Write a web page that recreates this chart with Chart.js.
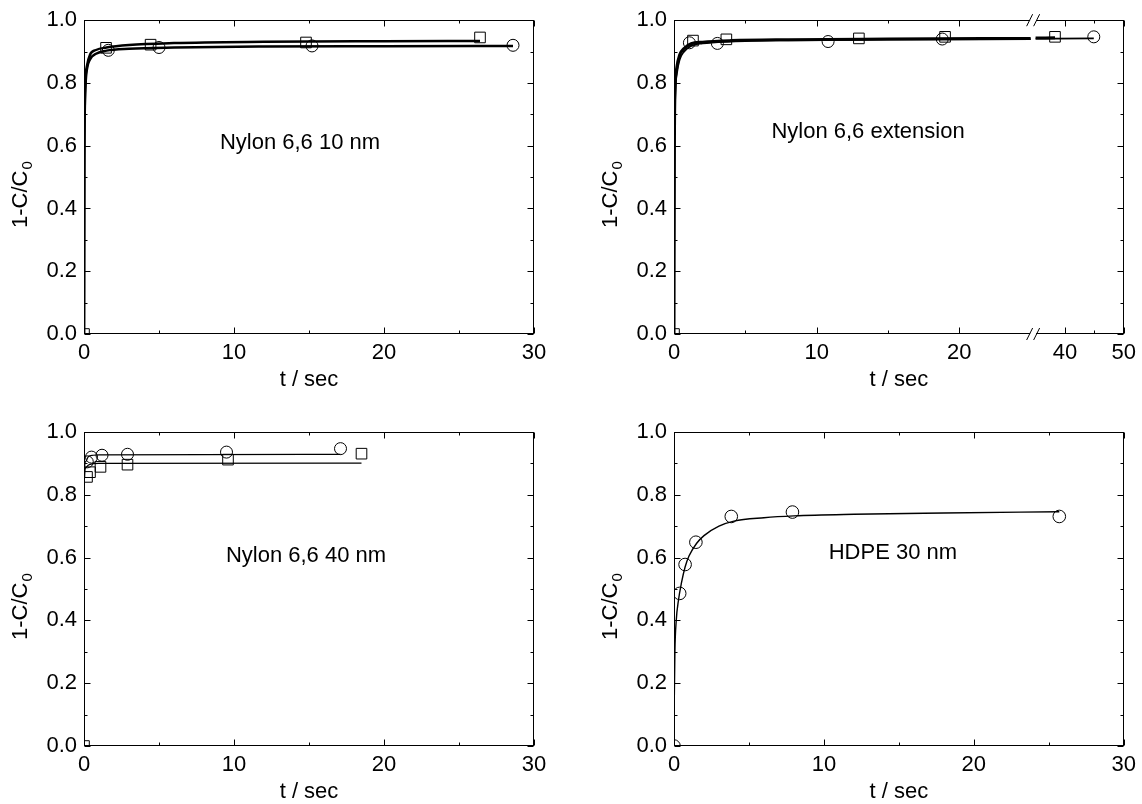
<!DOCTYPE html>
<html><head><meta charset="utf-8">
<script src="https://cdn.jsdelivr.net/npm/chart.js@4.4.1/dist/chart.umd.min.js"></script>
<style>
html,body{margin:0;padding:0;background:#fff;}
#wrap{position:relative;width:1142px;height:804px;overflow:hidden;}
canvas{position:absolute;}
</style></head><body>
<div id="wrap">
<canvas id="c1" width="571" height="402" style="left:0;top:0"></canvas>
<canvas id="c2" width="571" height="402" style="left:571px;top:0"></canvas>
<canvas id="c3" width="571" height="402" style="left:0;top:402px"></canvas>
<canvas id="c4" width="571" height="402" style="left:571px;top:402px"></canvas>
</div>
<script>
// ---------- tick values / labels ----------
const yTickStep = 0.2;
const yMinorTicks = [0.1, 0.3, 0.5, 0.7, 0.9];
const xMinorTicks30 = [5, 15, 25];
const xTicksBroken = [0, 10, 20, 40, 50];
const xMinorBroken = [5, 15, 45];
const xTitle = 't / sec';
const yTitleMain = '1-C/C';
const yTitleSub = '0';
const panelLabels = ['Nylon 6,6 10 nm', 'Nylon 6,6 extension', 'Nylon 6,6 40 nm', 'HDPE 30 nm'];

// ---------- Panel 1: Nylon 6,6 10 nm ----------
const p1SqT = [0, 1.47, 4.44, 14.8, 26.4];
const p1SqV = [0, 0.912, 0.922, 0.929, 0.945];
const p1CiT = [1.62, 5.0, 15.2, 28.6];
const p1CiV = [0.904, 0.913, 0.918, 0.920];
const p1FitSqT = [0, 0.02, 0.05, 0.1, 0.2, 0.4, 0.8, 1.5, 3, 6, 12, 20, 26.4];
const p1FitSqV = [0, 0.55, 0.72, 0.81, 0.855, 0.89, 0.905, 0.913, 0.921, 0.927, 0.931, 0.933, 0.934];
const p1FitCiT = [0, 0.02, 0.05, 0.1, 0.2, 0.4, 0.8, 1.5, 3, 6, 12, 20, 28.6];
const p1FitCiV = [0, 0.5, 0.7, 0.79, 0.845, 0.875, 0.893, 0.903, 0.909, 0.913, 0.916, 0.917, 0.918];

// ---------- Panel 2: Nylon 6,6 extension (broken axis) ----------
const p2SqT = [0, 1.33, 3.67, 12.96, 19.0, 38.3];
const p2SqV = [0, 0.935, 0.939, 0.942, 0.947, 0.947];
const p2CiT = [1.08, 3.04, 10.8, 18.8, 44.9];
const p2CiV = [0.928, 0.926, 0.932, 0.940, 0.947];
const p2FitSqT = [0, 0.03, 0.08, 0.2, 0.4, 0.7, 1.2, 2, 4, 8, 15, 25, 30, 35, 38.3];
const p2FitSqV = [0, 0.6, 0.78, 0.85, 0.89, 0.91, 0.925, 0.93, 0.935, 0.938, 0.94, 0.942, null, 0.943, 0.944];
const p2FitCiT = [0, 0.03, 0.08, 0.2, 0.4, 0.7, 1.2, 2, 4, 8, 15, 25, 30, 35, 44.9];
const p2FitCiV = [0, 0.55, 0.75, 0.83, 0.875, 0.9, 0.918, 0.926, 0.932, 0.936, 0.938, 0.94, null, 0.941, 0.942];

// ---------- Panel 3: Nylon 6,6 40 nm ----------
const p3SqT = [0, 0.2, 0.4, 1.1, 2.9, 9.6, 18.5];
const p3SqV = [0, 0.857, 0.872, 0.889, 0.896, 0.912, 0.931];
const p3CiT = [0.22, 0.5, 1.2, 2.9, 9.5, 17.1];
const p3CiV = [0.905, 0.92, 0.926, 0.929, 0.936, 0.947];
const p3FitSqT = [0, 0.02, 0.1, 0.3, 0.6, 1, 18.5];
const p3FitSqV = [0, 0.84, 0.885, 0.895, 0.899, 0.9, 0.901];
const p3FitCiT = [0, 0.02, 0.1, 0.3, 0.6, 1, 17.1];
const p3FitCiV = [0, 0.85, 0.905, 0.922, 0.926, 0.927, 0.929];

// ---------- Panel 4: HDPE 30 nm ----------
const p4CiT = [0, 0.38, 0.74, 1.46, 3.82, 7.9, 25.7];
const p4CiV = [0, 0.486, 0.578, 0.649, 0.731, 0.745, 0.731];
const p4FitT = [0, 0.02, 0.06, 0.15, 0.3, 0.5, 0.74, 1, 1.5, 2, 3, 4, 6, 8, 12, 18, 25.7];
const p4FitV = [0, 0.15, 0.3, 0.4, 0.465, 0.52, 0.57, 0.605, 0.645, 0.67, 0.70, 0.716, 0.727, 0.733, 0.738, 0.742, 0.746];

const FONT = '"Liberation Sans", Arial, Helvetica, sans-serif';
const FS = 22;
Chart.defaults.font.family = FONT;
Chart.defaults.font.size = FS;
Chart.defaults.color = '#000';

// ---------- broken linear scale ----------
class BrokenScale extends Chart.LinearScale {
  buildTicks() { return (this.options.tickValues || []).map(v => ({value: v})); }
  _toDec(v) {
    const segs = this.options.segments;
    for (let i = 0; i < segs.length; i++) {
      const s = segs[i];
      if (v <= s.to) {
        if (v < s.from) { const p = segs[i - 1]; return (p.end + s.start) / 2; }
        return s.start + (v - s.from) / (s.to - s.from) * (s.end - s.start);
      }
    }
    const l = segs[segs.length - 1];
    return l.start + (v - l.from) / (l.to - l.from) * (l.end - l.start);
  }
  getPixelForValue(v) {
    if (v === null || v === undefined || isNaN(v)) return NaN;
    return this.getPixelForDecimal(this._toDec(v));
  }
  getValueForPixel(p) {
    const d = this.getDecimalForPixel(p);
    for (const s of this.options.segments) {
      if (d <= s.end) return s.from + (d - s.start) / (s.end - s.start) * (s.to - s.from);
    }
    return this.max;
  }
}
BrokenScale.id = 'broken';
BrokenScale.defaults = {};
Chart.register(BrokenScale);

const zip = (ts, vs) => ts.map((t, i) => ({x: t, y: vs[i]}));

const framePlugin = {
  id: 'frame',
  beforeDatasetsDraw(chart, args, o) {
    const {ctx, chartArea: a, scales: {x, y}} = chart;
    ctx.save();
    ctx.strokeStyle = '#000';
    ctx.lineWidth = 1;
    const L = Math.round(a.left) + 0.5, R = Math.round(a.right) - 0.5;
    const T = Math.round(a.top) + 0.5, B = Math.round(a.bottom) - 0.5;
    ctx.strokeRect(L, T, R - L, B - T);
    const seg = (x1, y1, x2, y2) => { ctx.beginPath(); ctx.moveTo(x1, y1); ctx.lineTo(x2, y2); ctx.stroke(); };
    const xt = (v, len) => { const px = Math.round(x.getPixelForValue(v)) + 0.5; seg(px, B, px, B - len); seg(px, T, px, T + len); };
    const yt = (v, len) => { const py = Math.round(y.getPixelForValue(v)) + 0.5; seg(L, py, L + len, py); seg(R, py, R - len, py); };
    x.ticks.forEach(t => xt(t.value, 6));
    o.xMinor.forEach(v => xt(v, 3));
    y.ticks.forEach(t => yt(t.value, 6));
    yMinorTicks.forEach(v => yt(v, 3));
    ctx.restore();
  },
  afterDraw(chart, args, o) {
    const {ctx, chartArea: a, scales: {x, y}} = chart;
    ctx.save();
    if (o.breakBetween) {
      const bx = (x.getPixelForValue(o.breakBetween[0]) + x.getPixelForValue(o.breakBetween[1])) / 2;
      ctx.fillStyle = '#fff';
      ctx.fillRect(bx - 3, a.top - 2, 6, 4);
      ctx.fillRect(bx - 3, a.bottom - 2, 6, 4);
      ctx.strokeStyle = '#000';
      ctx.lineWidth = 1;
      [a.top, a.bottom].forEach(yy => {
        [-3.5, 3.5].forEach(dx => {
          ctx.beginPath();
          ctx.moveTo(bx + dx - 3, yy + 6);
          ctx.lineTo(bx + dx + 3, yy - 6);
          ctx.stroke();
        });
      });
    }
    ctx.fillStyle = '#000';
    ctx.translate(a.left - o.titleGap, a.bottom - o.titleFromBottom);
    ctx.rotate(-Math.PI / 2);
    ctx.font = FS + 'px ' + FONT;
    ctx.textAlign = 'left';
    ctx.textBaseline = 'alphabetic';
    ctx.fillText(yTitleMain, 0, 0);
    const w = ctx.measureText(yTitleMain).width;
    ctx.font = '15px ' + FONT;
    ctx.fillText(yTitleSub, w + 1, 5);
    ctx.restore();
    ctx.save();
    ctx.font = FS + 'px ' + FONT;
    ctx.fillStyle = '#000';
    ctx.textAlign = 'center';
    ctx.textBaseline = 'middle';
    ctx.fillText(o.label, x.getPixelForValue(o.labelAt[0]), y.getPixelForValue(o.labelAt[1]));
    ctx.restore();
  }
};

function markerDs(data, style, r) {
  return {type: 'scatter', data, showLine: false, pointStyle: style, pointRadius: r, pointHoverRadius: r,
    pointBorderColor: '#000', pointBackgroundColor: 'rgba(0,0,0,0)', pointBorderWidth: 1, clip: 0};
}
function fitDs(data, width) {
  return {type: 'line', data, borderColor: '#000', borderWidth: width, pointRadius: 0, pointHoverRadius: 0,
    cubicInterpolationMode: 'monotone', fill: false, spanGaps: false, clip: 0};
}

function makePanel(id, cfg) {
  const W = 571, H = 402, A = cfg.area;
  const xScale = Object.assign({
    min: 0, max: cfg.xMax,
    grid: {display: false, drawTicks: false},
    border: {display: false},
    title: {display: true, text: xTitle, font: {size: FS, lineHeight: 1}, padding: {top: 0, bottom: cfg.xTitlePad}},
    afterFit: s => { s.height = H - A.B; }
  }, cfg.xExtra || {});
  return new Chart(document.getElementById(id), {
    type: 'scatter',
    data: {datasets: cfg.datasets},
    options: {
      responsive: false, animation: false, events: [],
      layout: {padding: {left: 0, top: A.T, right: W - A.R, bottom: 0}},
      plugins: {legend: {display: false}, tooltip: {enabled: false},
        frame: {xMinor: cfg.xMinor, breakBetween: cfg.breakBetween, label: cfg.label, labelAt: cfg.labelAt,
          titleGap: 57, titleFromBottom: 106}},
      scales: {
        x: xScale,
        y: {
          type: 'linear', min: 0, max: 1,
          grid: {display: false, drawTicks: false},
          border: {display: false},
          ticks: {stepSize: yTickStep, padding: 7, font: {size: FS}, callback: v => v.toFixed(1)},
          afterFit: s => { s.width = A.L; }
        }
      }
    },
    plugins: [framePlugin]
  });
}

const xTicks10 = {stepSize: 10, padding: 6, maxRotation: 0, autoSkip: false, font: {size: FS}, callback: v => String(v)};

makePanel('c1', {
  area: {L: 84, T: 20, R: 534, B: 334}, xMax: 30, xMinor: xMinorTicks30, xTitlePad: 11,
  xExtra: {type: 'linear', ticks: xTicks10},
  label: panelLabels[0], labelAt: [14.4, 0.61],
  datasets: [
    markerDs(zip(p1SqT, p1SqV), 'rect', 7.5),
    markerDs(zip(p1CiT, p1CiV), 'circle', 6),
    fitDs(zip(p1FitSqT, p1FitSqV), 2.5),
    fitDs(zip(p1FitCiT, p1FitCiV), 2.5)
  ]
});

makePanel('c2', {
  area: {L: 103, T: 20, R: 553, B: 334}, xMax: 50, xMinor: xMinorBroken, xTitlePad: 11,
  xExtra: {type: 'broken', tickValues: xTicksBroken,
    segments: [{from: 0, to: 25, start: 0, end: 0.793}, {from: 35, to: 50, start: 0.804, end: 1}],
    ticks: {padding: 6, maxRotation: 0, autoSkip: false, font: {size: FS}, callback: v => String(v)}},
  breakBetween: [25, 35],
  label: panelLabels[1], labelAt: [13.6, 0.645],
  datasets: [
    markerDs(zip(p2SqT, p2SqV), 'rect', 7.5),
    markerDs(zip(p2CiT, p2CiV), 'circle', 6),
    fitDs(zip(p2FitSqT, p2FitSqV), 3),
    fitDs(zip(p2FitCiT, p2FitCiV), 1.8)
  ]
});

makePanel('c3', {
  area: {L: 84, T: 30, R: 534, B: 344}, xMax: 30, xMinor: xMinorTicks30, xTitlePad: 1,
  xExtra: {type: 'linear', ticks: xTicks10},
  label: panelLabels[2], labelAt: [14.8, 0.606],
  datasets: [
    markerDs(zip(p3SqT, p3SqV), 'rect', 7.5),
    markerDs(zip(p3CiT, p3CiV), 'circle', 6),
    fitDs(zip(p3FitSqT, p3FitSqV), 1.2),
    fitDs(zip(p3FitCiT, p3FitCiV), 1.2)
  ]
});

makePanel('c4', {
  area: {L: 103, T: 30, R: 553, B: 344}, xMax: 30, xMinor: xMinorTicks30, xTitlePad: 1,
  xExtra: {type: 'linear', ticks: xTicks10},
  label: panelLabels[3], labelAt: [14.6, 0.615],
  datasets: [
    markerDs(zip(p4CiT, p4CiV), 'circle', 6.3),
    fitDs(zip(p4FitT, p4FitV), 1.4)
  ]
});
</script>
</body></html>
